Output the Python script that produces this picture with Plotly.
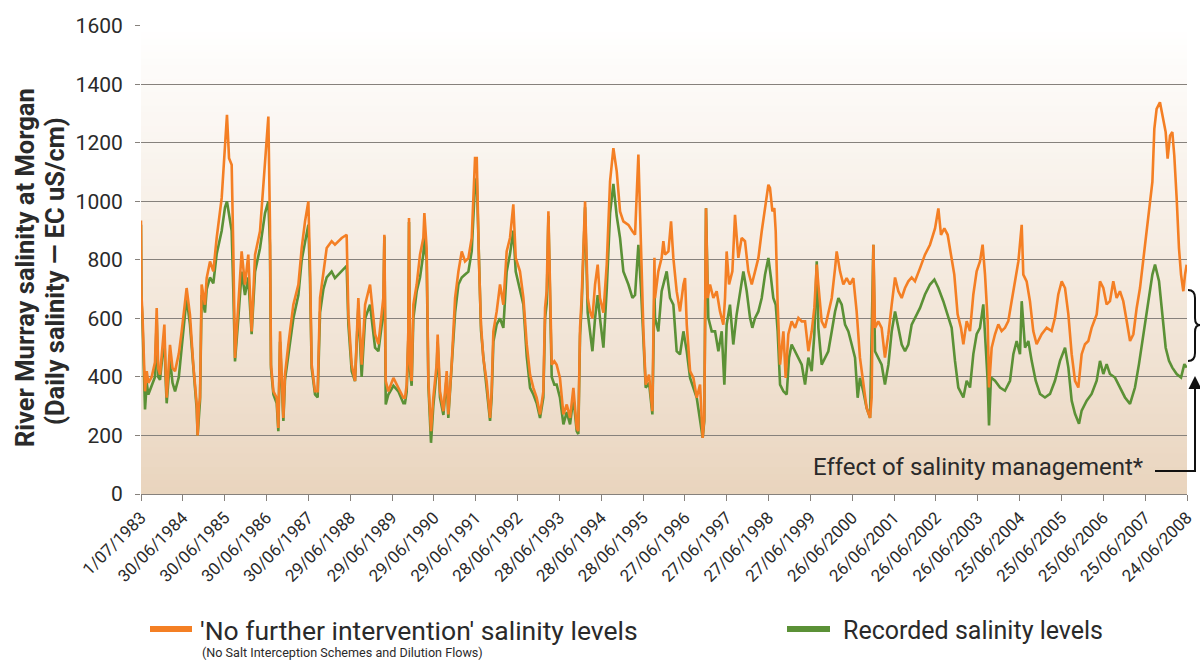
import plotly.graph_objects as go

# ---- data (x = days since 1 July 1983) ----
orange_days = [0, 4, 12, 35, 50, 64, 93, 122, 137, 150, 166, 204, 215, 224, 253, 275, 297, 330, 355, 398, 427, 456, 486, 494, 505, 515, 529, 558, 573, 602, 631, 660, 704, 733, 750, 768, 791, 805, 820, 849, 878, 907, 936, 965, 995, 1038, 1082, 1111, 1125, 1134, 1155, 1184, 1198, 1213, 1242, 1256, 1285, 1329, 1373, 1402, 1431, 1460, 1474, 1489, 1518, 1541, 1562, 1591, 1620, 1663, 1692, 1751, 1794, 1809, 1838, 1867, 1896, 1925, 1955, 1998, 2042, 2071, 2114, 2123, 2135, 2158, 2202, 2245, 2289,
               2303, 2318, 2332, 2338, 2347, 2361, 2376, 2405, 2434, 2463, 2472, 2492, 2507, 2530, 2550, 2579, 2588, 2608, 2638, 2667, 2681, 2710, 2740, 2769, 2798, 2827, 2856, 2885, 2914, 2929, 2949, 2966, 2986, 3015, 3045, 3059, 3074, 3103, 3132, 3161, 3190, 3219, 3248, 3269, 3306, 3336, 3365, 3394, 3423, 3452, 3481, 3510, 3525, 3539, 3554, 3568, 3583, 3606, 3626, 3655, 3685, 3714, 3743, 3772, 3801, 3815, 3830, 3844, 3874, 3897, 3917, 3938, 3961, 3984, 4004, 4034, 4063, 4092, 4121, 4150, 4179, 4208, 4252, 4287, 4310, 4339, 4362, 4383, 4403, 4432, 4461, 4479,
               4484, 4513, 4542, 4557, 4571, 4601, 4624, 4644, 4673, 4702, 4732, 4746, 4761, 4790, 4819, 4848, 4877, 4891, 4900, 4914, 4929, 4944, 4964, 4993, 5022, 5051, 5080, 5095, 5109, 5130, 5159, 5182, 5211, 5240, 5269, 5298, 5328, 5357, 5386, 5415, 5444, 5473, 5487, 5508, 5525, 5537, 5554, 5575, 5604, 5624, 5647, 5676, 5706, 5735, 5764, 5793, 5822, 5851, 5874, 5895, 5909, 5938, 5967, 5996, 6026, 6055, 6069, 6098, 6127, 6156, 6185, 6214, 6243, 6272, 6301, 6330, 6360, 6374, 6389, 6403, 6432, 6461, 6490, 6520, 6549, 6578, 6607, 6636, 6665, 6694, 6723,
               6752, 6796, 6839, 6883, 6927, 6956, 6979, 7008, 7037, 7066, 7095, 7124, 7153, 7174, 7203, 7232, 7261, 7290, 7319, 7342, 7363, 7386, 7398, 7421, 7450, 7479, 7508, 7537, 7566, 7595, 7624, 7654, 7683, 7697, 7726, 7755, 7784, 7813, 7857, 7901, 7944, 7973, 8002, 8032, 8061, 8090, 8119, 8148, 8177, 8206, 8235, 8264, 8293, 8337, 8366, 8395, 8424, 8453, 8482, 8511, 8540, 8569, 8599, 8628, 8657, 8686, 8715, 8753, 8788, 8823, 8840, 8860, 8889, 8919, 8939, 8956, 8977, 8997, 9014, 9035, 9055, 9073, 9093, 9108, 9122]
orange_vals = [935, 680, 620, 351, 420, 380, 400, 450, 636, 430, 408, 579, 420, 329, 510, 430, 420, 480, 556, 704, 613, 442, 306, 200, 300, 329, 716, 647, 738, 795, 761, 875, 1012, 1194, 1296, 1148, 1125, 841, 465, 647, 829, 716, 818, 556, 818, 898, 1125, 1290, 920, 442, 351, 329, 226, 556, 260, 408, 510, 647, 716, 841, 932, 1000, 784, 442, 351, 351, 670, 761, 841, 864, 852, 875, 886, 613, 442, 386, 670, 442, 647, 716, 546, 512, 670, 886, 386, 351, 397, 363, 329,
               329, 374, 556, 943, 442, 386, 647, 716, 818, 875, 960, 841, 386, 215, 329, 442, 545, 351, 283, 420, 272, 442, 670, 761, 829, 795, 806, 875, 1148, 1148, 784, 579, 465, 386, 260, 351, 556, 624, 716, 647, 829, 875, 990, 807, 761, 670, 512, 408, 363, 329, 272, 351, 636, 693, 966, 693, 442, 454, 442, 397, 272, 306, 260, 363, 226, 215, 568, 670, 1000, 670, 624, 600, 716, 784, 670, 620, 784, 1069, 1182, 1103, 966, 932, 920, 898, 886, 1160, 841, 556, 374, 408, 283, 807,
               670, 761, 807, 864, 818, 829, 932, 807, 693, 624, 716, 738, 579, 420, 397, 329, 374, 238, 192, 260, 977, 670, 716, 670, 693, 624, 579, 670, 829, 716, 761, 954, 807, 875, 864, 761, 716, 761, 807, 898, 977, 1057, 1046, 966, 977, 898, 647, 442, 556, 397, 546, 590, 568, 602, 590, 590, 488, 556, 636, 784, 716, 590, 568, 624, 670, 772, 829, 761, 716, 738, 716, 738, 624, 466, 374, 294, 260, 329, 852, 568, 590, 568, 466, 546, 647, 740, 693, 670, 704, 727, 740,
               727, 772, 818, 852, 908, 976, 886, 908, 886, 818, 750, 614, 568, 512, 591, 557, 682, 761, 795, 852, 750, 591, 364, 500, 546, 580, 557, 568, 591, 659, 727, 795, 920, 750, 727, 659, 557, 512, 546, 568, 557, 602, 682, 727, 704, 614, 478, 387, 364, 478, 512, 523, 568, 614, 727, 704, 648, 659, 727, 670, 693, 659, 591, 523, 546, 636, 704, 840, 953, 1067, 1248, 1316, 1339, 1282, 1237, 1146, 1225, 1237, 1157, 1010, 840, 750, 693, 750, 784]

green_days = [0, 4, 12, 35, 50, 64, 93, 122, 137, 150, 166, 204, 215, 224, 253, 275, 297, 330, 355, 398, 427, 456, 486, 494, 505, 515, 529, 558, 573, 602, 631, 660, 704, 733, 750, 768, 791, 805, 820, 849, 878, 907, 936, 965, 995, 1038, 1082, 1111, 1125, 1134, 1155, 1184, 1198, 1213, 1242, 1256, 1285, 1329, 1373, 1402, 1431, 1460, 1474, 1489, 1518, 1541, 1562, 1591, 1620, 1663, 1692, 1751, 1794, 1809, 1838, 1867, 1896, 1925, 1955, 1998, 2042, 2071, 2114, 2123, 2135, 2158, 2202, 2245, 2289,
              2303, 2318, 2332, 2338, 2347, 2361, 2376, 2405, 2434, 2463, 2472, 2492, 2507, 2530, 2550, 2579, 2588, 2608, 2638, 2667, 2681, 2710, 2740, 2769, 2798, 2827, 2856, 2885, 2914, 2929, 2949, 2966, 2986, 3015, 3045, 3059, 3074, 3103, 3132, 3161, 3190, 3219, 3248, 3269, 3306, 3336, 3365, 3394, 3423, 3452, 3481, 3510, 3525, 3539, 3554, 3568, 3583, 3606, 3626, 3655, 3685, 3714, 3743, 3772, 3801, 3815, 3830, 3844, 3874, 3897, 3917, 3938, 3961, 3984, 4004, 4034, 4063, 4092, 4121, 4150, 4179, 4208, 4252, 4287, 4310, 4339, 4362, 4383, 4403, 4432, 4461, 4479,
              4484, 4513, 4542, 4571, 4586, 4615, 4644, 4673, 4702, 4732, 4761, 4790, 4848, 4900, 4914, 4929, 4949, 4979, 5008, 5037, 5066, 5089, 5109, 5138, 5167, 5196, 5226, 5255, 5284, 5313, 5333, 5357, 5386, 5415, 5444, 5473, 5496, 5516, 5537, 5554, 5575, 5604, 5633, 5653, 5676, 5706, 5735, 5764, 5793, 5822, 5851, 5874, 5895, 5909, 5938, 5967, 5996, 6026, 6055, 6084, 6113, 6142, 6171, 6200, 6229, 6252, 6272, 6301, 6330, 6360, 6389, 6403, 6432, 6461, 6490, 6520, 6549, 6578, 6607, 6636, 6665, 6694, 6723,
              6752, 6796, 6839, 6883, 6921, 6956, 6999, 7043, 7072, 7101, 7130, 7174, 7203, 7232, 7261, 7290, 7319, 7348, 7369, 7386, 7398, 7415, 7450, 7494, 7537, 7581, 7610, 7639, 7668, 7683, 7712, 7741, 7770, 7805, 7843, 7886, 7930, 7973, 8017, 8061, 8090, 8119, 8148, 8183, 8206, 8250, 8293, 8337, 8366, 8395, 8424, 8453, 8497, 8540, 8584, 8628, 8671, 8706, 8744, 8788, 8823, 8846, 8881, 8910, 8939, 8968, 8997, 9035, 9073, 9102, 9122]
green_vals = [920, 660, 600, 289, 380, 340, 370, 400, 600, 400, 390, 540, 390, 310, 460, 380, 351, 400, 500, 670, 580, 420, 290, 200, 290, 320, 680, 620, 700, 740, 720, 820, 900, 980, 1000, 950, 900, 700, 453, 600, 760, 680, 740, 546, 760, 840, 960, 1000, 850, 430, 340, 310, 215, 520, 250, 390, 480, 600, 680, 800, 860, 920, 740, 430, 340, 330, 620, 700, 740, 760, 738, 761, 780, 580, 420, 386, 640, 400, 600, 647, 500, 488, 620, 880, 306, 340, 370, 351, 310,
              310, 350, 530, 930, 420, 370, 600, 693, 740, 820, 875, 800, 370, 175, 300, 420, 520, 330, 270, 400, 260, 420, 620, 716, 740, 750, 760, 830, 1060, 1080, 740, 560, 470, 370, 250, 330, 520, 580, 600, 568, 760, 820, 900, 760, 700, 647, 470, 363, 340, 310, 260, 330, 600, 650, 950, 650, 400, 374, 374, 329, 238, 280, 238, 330, 215, 205, 540, 640, 980, 620, 560, 488, 600, 680, 600, 500, 700, 960, 1060, 950, 875, 761, 716, 670, 680, 852, 700, 520, 363, 380, 272, 700,
              602, 556, 693, 738, 761, 670, 647, 488, 477, 556, 488, 397, 329, 192, 250, 977, 602, 556, 556, 488, 556, 374, 579, 647, 511, 613, 693, 761, 693, 602, 568, 602, 624, 670, 750, 807, 738, 670, 647, 556, 374, 351, 340, 466, 511, 488, 466, 442, 374, 466, 420, 546, 795, 568, 442, 466, 488, 556, 624, 670, 647, 579, 556, 511, 466, 329, 397, 351, 294, 260, 852, 488, 466, 442, 374, 442, 556, 624, 568, 511, 488, 511, 579,
              602, 636, 682, 716, 733, 704, 659, 602, 568, 455, 364, 330, 387, 364, 478, 546, 568, 648, 523, 387, 234, 398, 387, 364, 353, 387, 478, 523, 478, 659, 500, 523, 455, 387, 342, 330, 342, 387, 455, 500, 432, 319, 274, 240, 285, 319, 342, 387, 455, 410, 444, 410, 398, 364, 330, 308, 364, 444, 546, 670, 750, 784, 727, 614, 500, 455, 432, 410, 398, 444, 432]

tick_days = [0, 365, 730, 1095, 1460, 1825, 2190, 2555, 2920, 3285, 3650, 4015, 4380, 4745, 5110, 5475, 5840, 6205, 6570, 6935, 7300, 7665, 8030, 8395, 8760, 9125]
tick_labels = ["1/07/1983", "30/06/1984", "30/06/1985", "30/06/1986", "30/06/1987", "29/06/1988", "29/06/1989", "29/06/1990", "29/06/1991", "28/06/1992", "28/06/1993", "28/06/1994", "28/06/1995", "27/06/1996", "27/06/1997", "27/06/1998", "27/06/1999", "26/06/2000", "26/06/2001", "26/06/2002", "26/06/2003", "25/06/2004", "25/06/2005", "25/06/2006", "25/06/2007", "24/06/2008"]
y_ticks = [0, 200, 400, 600, 800, 1000, 1200, 1400, 1600]

ORANGE = "#F47F24"
GREEN = "#5B9136"
FONT = "Roboto"
TXT = "#2a2a2a"
GRID = "#86817c"

fig = go.Figure()
fig.add_trace(go.Scatter(x=green_days, y=green_vals, mode="lines",
                         line=dict(color=GREEN, width=2.6), name="Recorded salinity levels",
                         showlegend=False))
fig.add_trace(go.Scatter(x=orange_days, y=orange_vals, mode="lines",
                         line=dict(color=ORANGE, width=2.6),
                         name="'No further intervention' salinity levels", showlegend=False))

FIG_W, FIG_H = 1200, 664
W0, W = 141, 1046          # plot left / width in px
H0, H = 494, 469           # plot bottom / height in px
Y_MAX = 1603

def px(x):
    return (x - W0) / W
def py(y):
    return (H0 - y) / H

# background gradient (white top -> tan bottom)
shapes = []
n = 70
top_c = (255, 255, 255)
bot_c = (233, 212, 189)
for i in range(n):
    y0 = i / n
    y1 = (i + 1) / n
    t = ((y0 + y1) / 2) ** 0.9
    c = tuple(int(round(bot_c[k] + (top_c[k] - bot_c[k]) * t)) for k in range(3))
    shapes.append(dict(type="rect", xref="paper", yref="paper", x0=0, x1=1, y0=y0, y1=y1 + 0.002,
                       fillcolor="rgb(%d,%d,%d)" % c, line=dict(width=0), layer="below"))

# legend swatches
shapes.append(dict(type="line", xref="paper", yref="paper", x0=px(150), x1=px(192), y0=py(629), y1=py(629),
                   line=dict(color=ORANGE, width=6)))
shapes.append(dict(type="line", xref="paper", yref="paper", x0=px(787), x1=px(830), y0=py(629), y1=py(629),
                   line=dict(color=GREEN, width=6)))
# leader line for annotation
shapes.append(dict(type="line", xref="paper", yref="paper", x0=px(1155), x1=px(1196), y0=py(471), y1=py(471),
                   line=dict(color="#111111", width=2)))
# brace
bp = "M {a},{b} Q {c},{b} {c},{d} L {c},{e} Q {c},{f} {g},{f} Q {c},{f} {c},{h} L {c},{i} Q {c},{j} {a},{j}".format(
    a=px(1188), b=py(290), c=px(1195), d=py(298), e=py(318), f=py(325), g=px(1200), h=py(332), i=py(353), j=py(361))
shapes.append(dict(type="path", xref="paper", yref="paper", path=bp, line=dict(color="#111111", width=2)))

annotations = [
    dict(xref="paper", yref="paper", x=px(25), y=py(268), xanchor="center", yanchor="middle", textangle=-90,
         text="<b>River Murray salinity at Morgan</b>", showarrow=False,
         font=dict(family=FONT, size=25.5, color=TXT)),
    dict(xref="paper", yref="paper", x=px(55), y=py(271), xanchor="center", yanchor="middle", textangle=-90,
         text="<b>(Daily salinity — EC uS/cm)</b>", showarrow=False,
         font=dict(family=FONT, size=25.5, color=TXT)),
    dict(xref="paper", yref="paper", x=px(198), y=py(630), xanchor="left", yanchor="middle",
         text="'No further intervention' salinity levels", showarrow=False,
         font=dict(family=FONT, size=26.5, color=TXT)),
    dict(xref="paper", yref="paper", x=px(200), y=py(652), xanchor="left", yanchor="middle",
         text="(No Salt Interception Schemes and Dilution Flows)", showarrow=False,
         font=dict(family=FONT, size=12.6, color=TXT)),
    dict(xref="paper", yref="paper", x=px(841), y=py(630), xanchor="left", yanchor="middle",
         text="Recorded salinity levels", showarrow=False,
         font=dict(family=FONT, size=25, color=TXT)),
    dict(xref="paper", yref="paper", x=px(1146), y=py(467), xanchor="right", yanchor="middle",
         text="Effect of salinity management*", showarrow=False,
         font=dict(family=FONT, size=24, color=TXT)),
    dict(xref="paper", yref="paper", x=px(1195), y=py(376), text="", showarrow=True,
         ax=0, ay=96, arrowhead=2, arrowsize=1.3, arrowwidth=2, arrowcolor="#111111", standoff=0),
]

fig.update_layout(
    width=FIG_W, height=FIG_H,
    margin=dict(l=W0, r=FIG_W - W0 - W, t=H0 - H, b=FIG_H - H0),
    paper_bgcolor="white", plot_bgcolor="rgba(0,0,0,0)",
    shapes=shapes, annotations=annotations, showlegend=False,
    font=dict(family=FONT, color=TXT),
)
fig.update_xaxes(range=[0, 9125], tickmode="array", tickvals=tick_days, ticktext=tick_labels,
                 tickangle=-45, tickfont=dict(family=FONT, size=17, color=TXT),
                 showgrid=False, zeroline=False, showline=True, linecolor=GRID, linewidth=1.2,
                 ticks="outside", ticklen=6, tickcolor=GRID, tickwidth=1, automargin=False)
fig.update_yaxes(range=[0, Y_MAX], tickmode="array", tickvals=y_ticks,
                 tickfont=dict(family=FONT, size=21, color=TXT),
                 showgrid=True, gridcolor=GRID, gridwidth=1.2, zeroline=False, showline=False,
                 ticks="outside", ticklen=5, tickcolor=GRID, ticklabelstandoff=8, automargin=False)

fig.write_html("out.html", config={"displayModeBar": False},
               post_script="document.body.style.margin='0';document.body.style.overflow='hidden';")
